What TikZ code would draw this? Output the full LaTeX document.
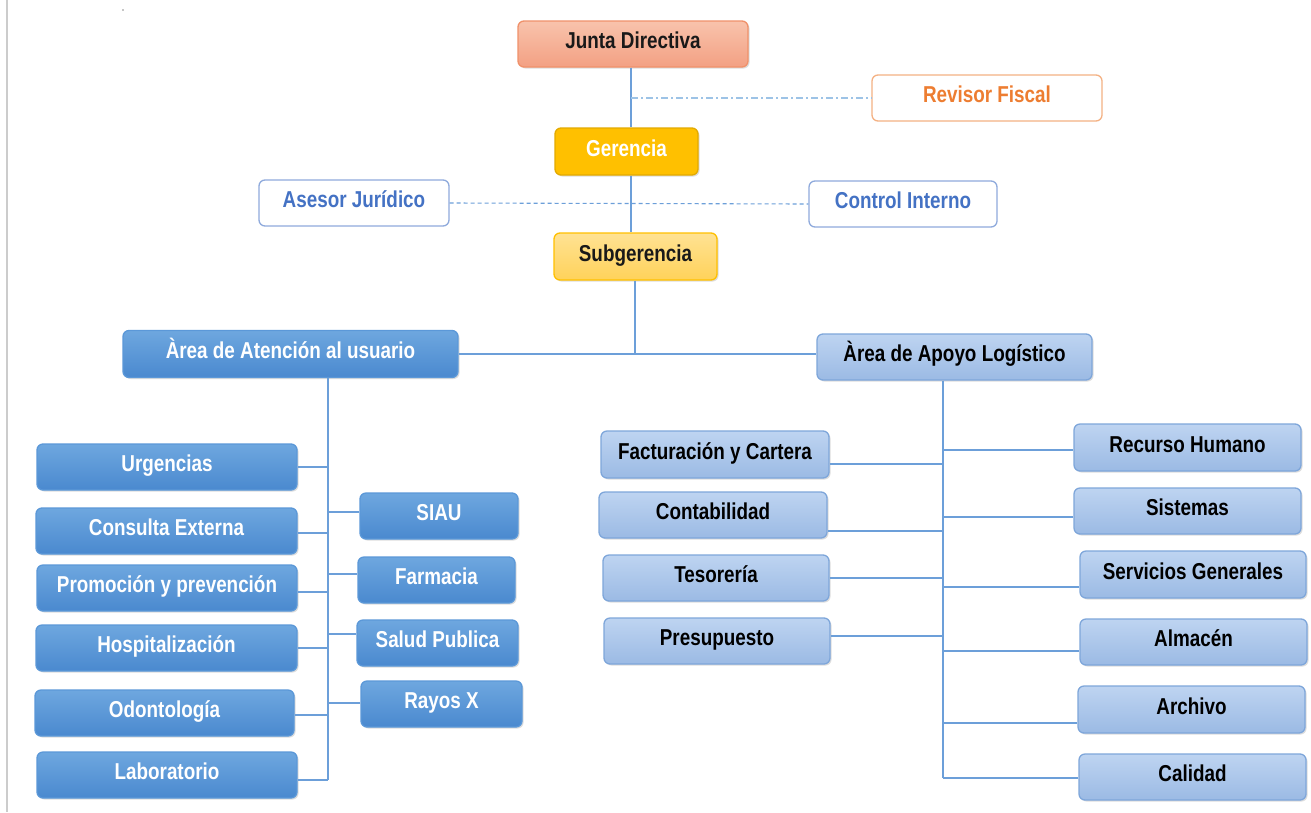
\documentclass[tikz,border=0pt]{standalone}
\usepackage{fontspec}
\setmainfont{Liberation Sans}[FakeStretch=0.82]
\usetikzlibrary{shadows}
\definecolor{lineblue}{HTML}{6C9FD9}
\definecolor{dbTop}{HTML}{6EA7DF}
\definecolor{dbBot}{HTML}{4A89CF}
\definecolor{dbBorder}{HTML}{5B98D8}
\definecolor{lbTop}{HTML}{BED4F1}
\definecolor{lbBot}{HTML}{9BBAE4}
\definecolor{lbBorder}{HTML}{7EA6DA}
\definecolor{jdTop}{HTML}{F8C3AC}
\definecolor{jdBot}{HTML}{F3A083}
\definecolor{jdBorder}{HTML}{F0916A}
\definecolor{orangeT}{HTML}{ED7D31}
\definecolor{orangeB}{HTML}{F4B183}
\definecolor{gold}{HTML}{FFC000}
\definecolor{goldB}{HTML}{E3AA00}
\definecolor{sgTop}{HTML}{FFE293}
\definecolor{sgBot}{HTML}{FFD25A}
\definecolor{advB}{HTML}{8FAADC}
\definecolor{advT}{HTML}{4472C4}
\definecolor{dashblue}{HTML}{9DC3E6}
\begin{document}
\begin{tikzpicture}[x=1pt,y=-1pt,
  box/.style={rounded corners=6pt, line width=1.3pt, align=center, inner sep=0pt,
    text height=17pt, text depth=8pt,
    font=\fontsize{23}{26}\selectfont\bfseries},
  shad/.style={drop shadow={shadow xshift=1.5pt, shadow yshift=-1.5pt, opacity=0.22, fill=black!60}},
  dbox/.style={box, shad, draw=dbBorder, top color=dbTop, bottom color=dbBot, text=white},
  lbox/.style={box, shad, draw=lbBorder, top color=lbTop, bottom color=lbBot, text=black},
  wbox/.style={box, fill=white},
  conn/.style={draw=lineblue, line width=1.4pt}
]
\useasboundingbox[fill=white] (0,0) rectangle (1311,812);
\draw[black!20, line width=2pt] (7,0) -- (7,812);
\fill[black!45] (123,10) circle (0.8);

% top
\node[box, shad, draw=jdBorder, top color=jdTop, bottom color=jdBot, text=black!90,
  minimum width=230, minimum height=46] (jd) at (633,44) {Junta Directiva};
\node[wbox, draw=orangeB, text=orangeT, minimum width=230, minimum height=46] (rf) at (987,98) {Revisor Fiscal};
\node[box, shad, draw=goldB, fill=gold, text=white, minimum width=143, minimum height=47] (ge) at (626.5,151.5) {Gerencia};
\node[wbox, draw=advB, text=advT, minimum width=190, minimum height=46] (aj) at (354,203) {Asesor Jurídico};
\node[wbox, draw=advB, text=advT, minimum width=188, minimum height=46] (ci) at (903,204) {Control Interno};
\node[box, shad, draw=gold, top color=sgTop, bottom color=sgBot, text=black!90, minimum width=163, minimum height=47] (sg) at (635.5,256.5) {Subgerencia};

\node[dbox, minimum width=335, minimum height=47] (aa) at (290.5,354) {Àrea de Atención al usuario};
\node[lbox, minimum width=275, minimum height=46] (al) at (954.5,357) {Àrea de Apoyo Logístico};

% left column
\node[dbox, minimum width=260, minimum height=46] (urg) at (167,467) {Urgencias};
\node[dbox, minimum width=261, minimum height=46] (ce) at (166.5,531) {Consulta Externa};
\node[dbox, minimum width=260, minimum height=46] (pp) at (167,588) {Promoción y prevención};
\node[dbox, minimum width=261, minimum height=46] (ho) at (166.5,648) {Hospitalización};
\node[dbox, minimum width=259, minimum height=46] (od) at (164.5,713) {Odontología};
\node[dbox, minimum width=260, minimum height=46] (la) at (167,775) {Laboratorio};
% middle column
\node[dbox, minimum width=158, minimum height=46] (si) at (439,516) {SIAU};
\node[dbox, minimum width=157, minimum height=46] (fa) at (436.5,580) {Farmacia};
\node[dbox, minimum width=161, minimum height=46] (sp) at (437.5,643) {Salud Publica};
\node[dbox, minimum width=161, minimum height=46] (rx) at (441.5,704) {Rayos X};
% right-left column
\node[lbox, minimum width=228, minimum height=47] (fc) at (715,454.5) {Facturación y Cartera};
\node[lbox, minimum width=228, minimum height=46] (co) at (713,515) {Contabilidad};
\node[lbox, minimum width=226, minimum height=46] (te) at (716,578) {Tesorería};
\node[lbox, minimum width=226, minimum height=46] (pr) at (717,641) {Presupuesto};
% right-right column
\node[lbox, minimum width=227, minimum height=47] (rh) at (1187.5,447.5) {Recurso Humano};
\node[lbox, minimum width=227, minimum height=46] (sy) at (1187.5,511) {Sistemas};
\node[lbox, minimum width=226, minimum height=47] (sv) at (1193,574.5) {Servicios Generales};
\node[lbox, minimum width=227, minimum height=46] (am) at (1193.5,642) {Almacén};
\node[lbox, minimum width=227, minimum height=47] (ar) at (1191.5,709.5) {Archivo};
\node[lbox, minimum width=227, minimum height=46] (ca) at (1192.5,777) {Calidad};

% spine coordinates
\coordinate (spine) at (631,0);
\coordinate (spine2) at (635,353);
\coordinate (lb) at (328,780);
\coordinate (rb) at (943,778);

% top connectors
\draw[conn] (jd.south -| spine) -- (ge.north -| spine);
\draw[conn] (ge.south -| spine) -- (sg.north -| spine);
\draw[conn] (sg.south -| spine2) -- (spine2);
\draw[dashblue, line width=1.4pt, dash pattern=on 7pt off 3pt on 2pt off 3pt] (spine |- rf.west) -- (rf.west);
\draw[lineblue, line width=1.1pt, dash pattern=on 4pt off 3pt] (aj.east) -- (ci.west);
\draw[conn] (aa.east) -- (aa.east -| al.west);

% left bus
\draw[conn] (lb |- aa.south) -- (lb);
\foreach \n/\s in {urg/0, ce/-2, pp/-4, ho/0, od/-2, la/-5}
  \draw[conn] ([yshift=\s pt]\n.east) -- ([yshift=\s pt]\n.east -| lb);
\foreach \n/\s in {si/4, fa/6, sp/9, rx/1}
  \draw[conn] ([yshift=\s pt]\n.west) -- ([yshift=\s pt]\n.west -| lb);

% right bus
\draw[conn] (rb |- al.south) -- (rb);
\foreach \n/\s in {fc/-9.5, co/-16, te/0, pr/5}
  \draw[conn] ([yshift=\s pt]\n.east) -- ([yshift=\s pt]\n.east -| rb);
\foreach \n/\s in {rh/-2.5, sy/-6, sv/-12.5, am/-9, ar/-13.5, ca/-1}
  \draw[conn] ([yshift=\s pt]\n.west) -- ([yshift=\s pt]\n.west -| rb);
\end{tikzpicture}
\end{document}
